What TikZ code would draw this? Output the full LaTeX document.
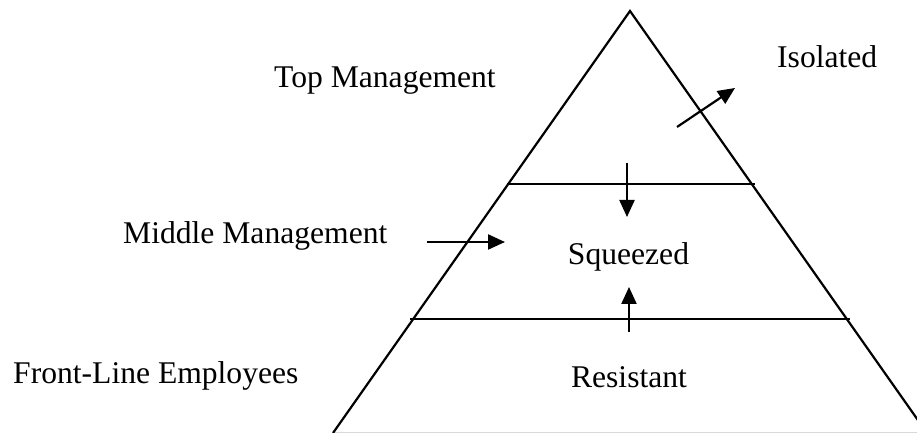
\documentclass[tikz,border=0pt]{standalone}
\usepackage{fontspec}
\setmainfont{Liberation Serif}
\usepackage{tikz}
\usetikzlibrary{arrows.meta}

\begin{document}
\begin{tikzpicture}[>={Triangle[length=17bp,width=15bp]},line join=miter,
  lbl/.style={inner sep=0pt,font=\fontsize{31.6bp}{38bp}\selectfont},
  edge/.style={line width=2.2bp}]
%%
\useasboundingbox (0.0bp,0.0bp) rectangle (917.0bp,433.0bp);
\clip (0.0bp,0.0bp) rectangle (917.0bp,433.0bp);
\begin{scope}
  \draw [gray!30,line width=1.2bp] (333.0bp,0.6bp) -- (917.0bp,0.6bp);
\end{scope}
%% pyramid
  \coordinate (apex) at (630.0bp,422.0bp);
  \coordinate (baseL) at (333.0bp,0.0bp);
  \coordinate (baseR) at (927.0bp,0.0bp);
  \coordinate (cutTL) at (507.0bp,249.0bp);
  \coordinate (cutTR) at (755.0bp,249.0bp);
  \coordinate (cutBL) at (410.0bp,114.0bp);
  \coordinate (cutBR) at (850.0bp,114.0bp);
  \draw [edge] (baseL) -- (apex) -- (baseR);
  \draw [edge] (cutTL) -- (cutTR);
  \draw [edge] (cutBL) -- (cutBR);
%% labels
  \node (top) at (274.0bp,345.0bp) [lbl,anchor=base west] {Top Management};
  \node (iso) at (777.0bp,365.0bp) [lbl,anchor=base west] {Isolated};
  \node (mid) at (123.0bp,189.0bp) [lbl,anchor=base west] {Middle Management};
  \node (front) at (13.0bp,49.0bp) [lbl,anchor=base west] {Front-Line Employees};
  \node (sqz) at (628.5bp,168.0bp) [lbl,anchor=base] {Squeezed};
  \node (res) at (629.0bp,45.0bp) [lbl,anchor=base] {Resistant};
%% arrows
  \coordinate (isoS) at (677.0bp,306.0bp);
  \coordinate (isoE) at (735.0bp,345.0bp);
  \coordinate (downS) at (627.0bp,270.0bp);
  \coordinate (downE) at (627.0bp,216.0bp);
  \coordinate (upS) at (629.0bp,101.0bp);
  \coordinate (upE) at (629.0bp,146.0bp);
  \coordinate (inS) at (427.0bp,191.0bp);
  \coordinate (inE) at (505.0bp,191.0bp);
  \draw [edge,->] (isoS) -- (isoE);
  \draw [edge,->] (downS) -- (downE);
  \draw [edge,->] (upS) -- (upE);
  \draw [edge,->] (inS) -- (inE);
%
\end{tikzpicture}
\end{document}
